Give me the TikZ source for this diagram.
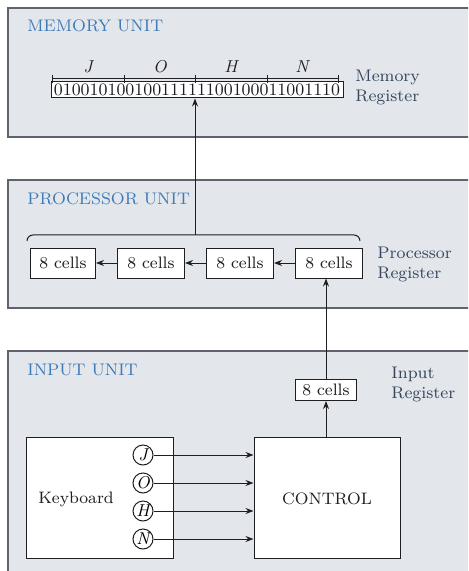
\documentclass[tikz,border=0pt]{standalone}
\usepackage{fontspec}
\usepackage{tikz}
\usetikzlibrary{positioning,arrows.meta}

\definecolor{panelfill}{RGB}{227,231,236}
\definecolor{panelline}{RGB}{95,100,108}
\definecolor{titleblue}{RGB}{62,122,182}
\definecolor{labelcol}{RGB}{55,70,92}
\definecolor{ink}{RGB}{30,30,35}

\begin{document}
\begin{tikzpicture}[
  x=0.5pt, y=-0.5pt,
  font=\fontsize{8.3}{10}\selectfont,
  node distance=10.5pt,
  panel/.style={draw=panelline, line width=0.6pt, fill=panelfill},
  title/.style={anchor=west, text=titleblue, inner sep=0pt, font=\fontsize{8.4}{10}\selectfont},
  reglabel/.style={anchor=west, align=left, text=labelcol, inner sep=0pt, font=\fontsize{8.4}{10}\selectfont},
  cell/.style={draw=ink, line width=0.5pt, fill=white, text=ink, minimum width=#1, minimum height=15pt, inner sep=1pt},
  cell/.default=33.5pt,
  box/.style={draw=ink, line width=0.5pt, fill=white, minimum width=73.5pt, minimum height=60.5pt},
  key/.style={draw=ink, circle, line width=0.5pt, fill=white, minimum size=10pt, inner sep=0pt, font=\fontsize{8.6}{10}\selectfont\itshape},
  letter/.style={text=ink, font=\fontsize{8.6}{10}\selectfont\itshape},
  arr/.style={-{Stealth[length=4pt, width=3pt]}, draw=ink, line width=0.5pt},
  wire/.style={draw=ink, line width=0.5pt},
]
\useasboundingbox (0,0) rectangle (468,571);
\fill[white] (0,0) rectangle (468,571);
\clip (0,0) rectangle (468,571);

% Panels
\path[panel] (8,8) rectangle (490,137);
\path[panel] (8,180) rectangle (490,308);
\path[panel] (8,351) rectangle (490,600);

\node[title] (tmem) at (27,26) {MEMORY UNIT};
\node[title] (tproc) at (27,199) {PROCESSOR UNIT};
\node[title] (tin) at (27,370) {INPUT UNIT};

% Memory register
\node[cell=146pt, minimum height=8pt, inner sep=0pt, font=\fontsize{8.7}{9}\selectfont] (mreg) at (197,90) {01001010010011111100100011001110};
\draw[wire] (52,79) -- (338,79);
\draw[wire] (52,75) -- (52,83) (124,75) -- (124,83) (195,75) -- (195,83) (267,75) -- (267,83) (338,75) -- (338,83);
\node[letter] (lJ) at (88,67) {J};
\node[letter] (lO) at (160,67) {O};
\node[letter] (lH) at (231,67) {H};
\node[letter] (lN) at (302,67) {N};
\node[reglabel] (mlab) at (355,87) {Memory\\Register};

% Processor register
\node[cell] (p4) at (329,263) {8 cells};
\node[cell, left=of p4] (p3) {8 cells};
\node[cell, left=of p3] (p2) {8 cells};
\node[cell=32.5pt, left=of p2] (p1) {8 cells};
\node[reglabel] (plab) at (377,264) {Processor\\Register};
\draw[arr] (p4) -- (p3);
\draw[arr] (p3) -- (p2);
\draw[arr] (p2) -- (p1);

% bus from the processor register up to memory
\draw[wire, rounded corners=3pt] (27,241) -- (27,235) -- (360,235) -- (360,241);
\coordinate (pbus) at (195,235);
\draw[arr] (pbus) -- (pbus |- mreg.south);

% Input unit
\node[cell=30.5pt, minimum height=10.5pt] (ireg) at (326,390) {8 cells};
\node[reglabel] (ilab) at (391,384) {Input\\Register};
\node[box] (kbd) at (99.5,497.5) {};
\node[text=ink, inner sep=0pt] (kbdtxt) at (76,499) {Keyboard};
\node[box, minimum width=73pt] (ctrl) at (327,497.5) {};
\node[text=ink, inner sep=0pt] (ctrltxt) at (327,499) {CONTROL};

\node[key] (kJ) at (143,455) {J};
\node[key] (kO) at (143,483) {O};
\node[key] (kH) at (143,511) {H};
\node[key] (kN) at (143,539) {N};

\draw[arr] (kJ.east) -- (kJ.east -| ctrl.west);
\draw[arr] (kO.east) -- (kO.east -| ctrl.west);
\draw[arr] (kH.east) -- (kH.east -| ctrl.west);
\draw[arr] (kN.east) -- (kN.east -| ctrl.west);

\draw[arr] (ctrl.north -| ireg.south) -- (ireg.south);
\draw[arr] (ireg.north) -- (ireg.north |- p4.south);
\end{tikzpicture}
\end{document}
